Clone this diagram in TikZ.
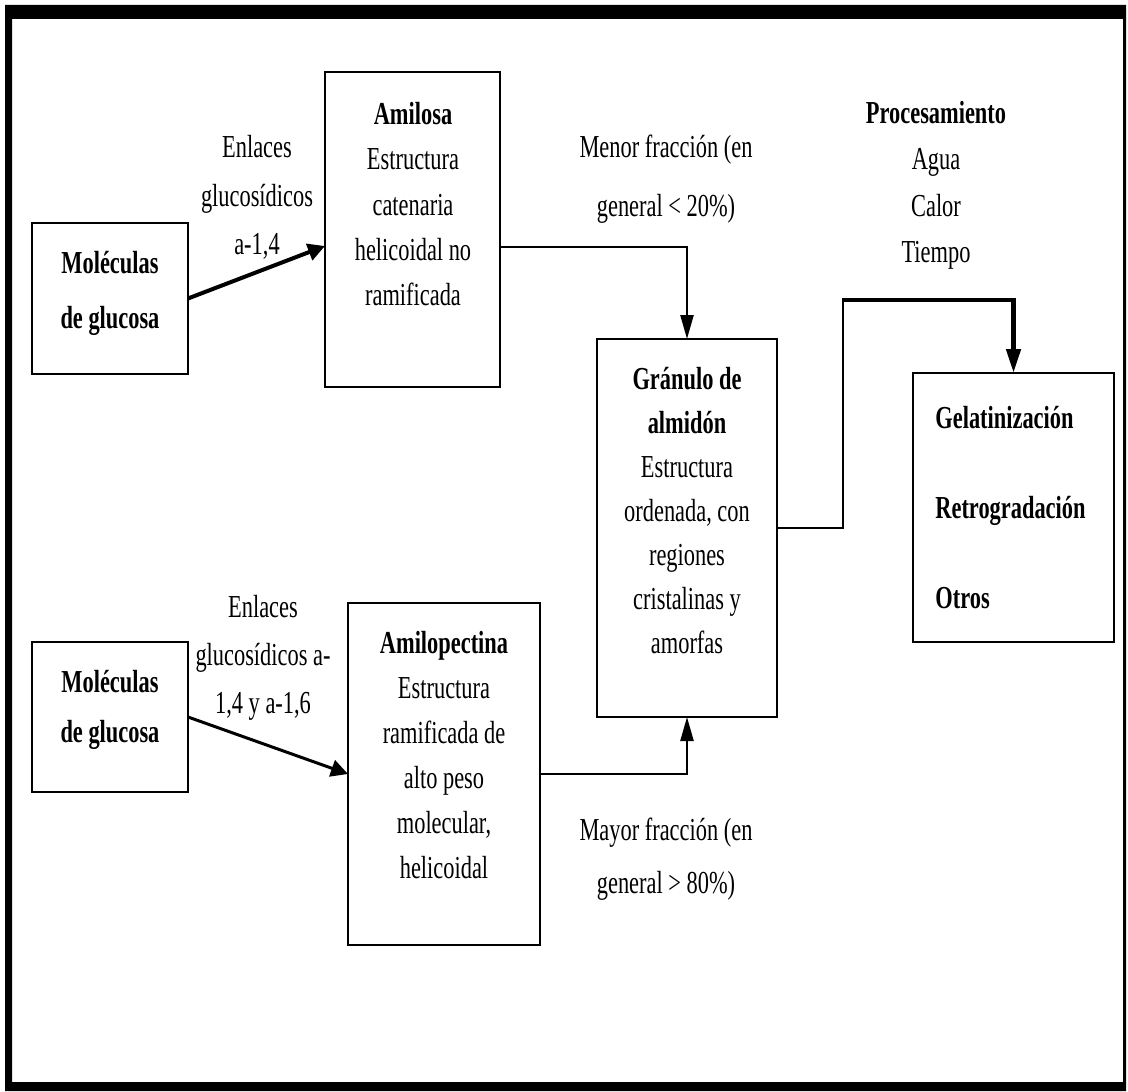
\documentclass[tikz,border=0pt]{standalone}
\usepackage{fontspec}
\setmainfont{Liberation Serif}[FakeStretch=0.70]
\usetikzlibrary{arrows.meta,calc}
\begin{document}
\begin{tikzpicture}[x=0.5pt,y=-0.5pt,
  box/.style={draw, line width=1pt, inner sep=0pt, outer sep=0pt},
  txt/.style={align=center, anchor=base, inner sep=0pt},
  fs/.style={font=\fontsize{16}{#1}\selectfont},
  conn/.style={line width=1.2pt, -{Triangle[length=12pt,width=6.5pt]}},
  diag/.style={-{Triangle[length=8.5pt,width=8.5pt]}}]
\useasboundingbox (0,0) rectangle (1128,1091);
\fill[white] (0,0) rectangle (1128,1091);
% outer frame
\fill[black, even odd rule] (5,5) rectangle (1126,1091) (12,19) rectangle (1123,1082);

% boxes
\node[box, minimum width=78pt, minimum height=75.5pt] (mol1) at (110,298.5) {};
\node[box, minimum width=87.5pt, minimum height=157.5pt] (amilosa) at (412.5,229.5) {};
\node[box, minimum width=78pt, minimum height=75pt] (mol2) at (110,717) {};
\node[box, minimum width=96pt, minimum height=171pt] (amilop) at (444,774) {};
\node[box, minimum width=90pt, minimum height=189pt] (granulo) at (687,528) {};
\node[box, minimum width=100.5pt, minimum height=134.5pt] (gel) at (1013.5,507.5) {};

% box texts (anchored at the baseline of the last line)
\node[txt, fs=27.5] (tmol1) at (110,328) {\textbf{Moléculas}\\\textbf{de glucosa}};
\node[txt, fs=25] (tmol2) at (110,742) {\textbf{Moléculas}\\\textbf{de glucosa}};
\node[txt, fs=22.5] (tamilosa) at (413,305) {\textbf{Amilosa}\\Estructura\\catenaria\\helicoidal no\\ramificada};
\node[txt, fs=22.5] (tamilop) at (444,878) {\textbf{Amilopectina}\\Estructura\\ramificada de\\alto peso\\molecular,\\helicoidal};
\node[txt, fs=22] (tgranulo) at (687,653) {\textbf{Gránulo de}\\\textbf{almidón}\\Estructura\\ordenada, con\\regiones\\cristalinas y\\amorfas};
\node[txt, align=left, anchor=base west, fs=45] (tgel) at (935,608) {\textbf{Gelatinización}\\\textbf{Retrogradación}\\\textbf{Otros}};

% labels
\node[txt, fs=24.25] (l1) at (257,255) {Enlaces\\glucosídicos\\a-1,4};
\node[txt, fs=24] (l2) at (263,713) {Enlaces\\glucosídicos a-\\1,4 y a-1,6};
\node[txt, fs=29.5] (menor) at (666,217) {Menor fracción (en\\general < 20\%)};
\node[txt, fs=26.5] (mayor) at (666,893) {Mayor fracción (en\\general > 80\%)};
\node[txt, fs=23] (proc) at (936,262) {\textbf{Procesamiento}\\Agua\\Calor\\Tiempo};

% connectors
\draw[diag, line width=2pt] (mol1.east) -- ([yshift=-8.25pt]amilosa.west);
\draw[diag, line width=1.5pt] (mol2.east) -- (amilop.west);
\draw[conn] ([yshift=-8.75pt]amilosa.east) -| (granulo.north);
\draw[conn] (amilop.east) -| (granulo.south);
\coordinate (bend) at (843,300);
\draw[line width=1.3pt] (granulo.east) -| (bend);
\draw[line width=2.3pt, -{Triangle[length=12pt,width=7pt]}] ([xshift=-0.65pt]bend) -| (gel.north);
\end{tikzpicture}
\end{document}
